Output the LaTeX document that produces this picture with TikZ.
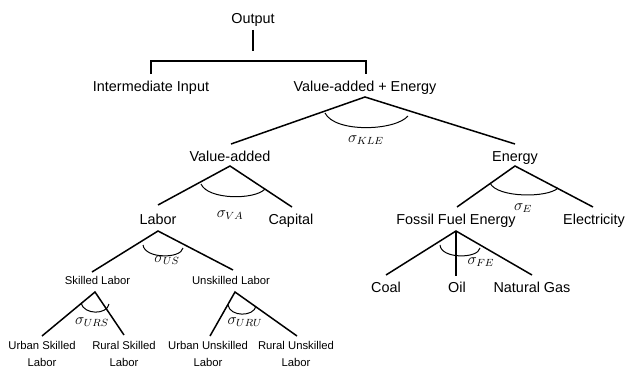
\documentclass[tikz,border=0pt]{standalone}
\usepackage{fontspec}
\setmainfont{Liberation Sans}
\newcommand{\sg}[1]{\scalebox{1.3}{$\sigma_{#1}$}}
\begin{document}
\begin{tikzpicture}[x=1pt,y=-1pt,
  big/.style={inner sep=0pt,text height=10.3pt,text depth=0pt,font=\fontsize{14.4}{16}\selectfont},
  small/.style={inner sep=0pt,text height=8.1pt,text depth=0pt,font=\fontsize{11.3}{16.5}\selectfont},
  two/.style={inner sep=0pt,align=center,font=\fontsize{11.3}{16.5}\selectfont},
  sig/.style={inner sep=0pt,font=\fontsize{12}{14}\selectfont},
  br/.style={line width=1.8pt},
  tr/.style={line width=1.5pt},
  ar/.style={line width=1pt}]
\useasboundingbox (0,0) rectangle (626,369);
% texts
\node[big] (out) at (253,18) {Output};
\node[big] (ii) at (151,86.5) {Intermediate Input};
\node[big] (vae) at (365,86.5) {Value-added + Energy};
\node[big] (va) at (230,156) {Value-added};
\node[big] (en) at (515,156) {Energy};
\node[big] (lab) at (158,219) {Labor};
\node[big] (cap) at (291,219) {Capital};
\node[big] (ffe) at (456,219) {Fossil Fuel Energy};
\node[big] (ele) at (594,219) {Electricity};
\node[big] (coal) at (386,287) {Coal};
\node[big] (oil) at (457,287) {Oil};
\node[big] (ng) at (532,287) {Natural Gas};
\node[small] (sl) at (97.5,280.5) {Skilled Labor};
\node[small] (ul) at (231,280.5) {Unskilled Labor};
\node[two] (usl) at (42,354) {Urban Skilled\\Labor};
\node[two] (rsl) at (124,354) {Rural Skilled\\Labor};
\node[two] (uul) at (208,354) {Urban Unskilled\\Labor};
\node[two] (rul) at (296,354) {Rural Unskilled\\Labor};
% sigma labels
\node[sig] (skle) at (366,140) {\sg{KLE}};
\node[sig] (sva) at (230,215) {\sg{VA}};
\node[sig] (se) at (523,208) {\sg{E}};
\node[sig] (sfe) at (481,262) {\sg{FE}};
\node[sig] (sus) at (167,260) {\sg{US}};
\node[sig] (surs) at (92,322) {\sg{URS}};
\node[sig] (suru) at (245,322) {\sg{URU}};
% connector points
\coordinate (outB) at (253,30);
\coordinate (outE) at (253,51);
\coordinate (brL) at (151,61);
\coordinate (brR) at (366,61);
\coordinate (iiT) at (151,74);
\coordinate (vaeT) at (366,74);
\coordinate (vaeA) at (365,97);
\coordinate (vaT) at (231,144);
\coordinate (enT) at (515,144);
\coordinate (vaA) at (230,166);
\coordinate (labT) at (158,205);
\coordinate (capT) at (292,207);
\coordinate (enA) at (515,166);
\coordinate (ffeT) at (457,207);
\coordinate (eleT) at (593,207);
\coordinate (ffeA) at (456,231);
\coordinate (coalT) at (386,275);
\coordinate (oilT) at (456,276);
\coordinate (ngT) at (532,275);
\coordinate (labA) at (158,231);
\coordinate (slT) at (92,272);
\coordinate (ulT) at (233,270);
\coordinate (slA) at (95,292);
\coordinate (uslT) at (42,336);
\coordinate (rslT) at (124,335);
\coordinate (ulA) at (235,292);
\coordinate (uulT) at (210,336);
\coordinate (rulT) at (297,336);
% bracket
\draw[br] (outB) -- (outE);
\draw[br] (iiT) -- (brL) -- (brR) -- (vaeT);
% tree lines
\draw[tr] (vaT) -- (vaeA) -- (enT);
\draw[tr] (labT) -- (vaA) -- (capT);
\draw[tr] (ffeT) -- (enA) -- (eleT);
\draw[tr] (coalT) -- (ffeA) -- (ngT);
\draw[tr] (ffeA) -- (oilT);
\draw[tr] (slT) -- (labA) -- (ulT);
\draw[tr] (uslT) -- (slA) -- (rslT);
\draw[tr] (uulT) -- (ulA) -- (rulT);
% arcs
\coordinate (k1) at (325,113); \coordinate (k2) at (408,116);
\draw[ar] (k1) .. controls (335,133) and (395,131) .. (k2);
\coordinate (v1) at (201,184); \coordinate (v2) at (265,189);
\draw[ar] (v1) .. controls (208,200) and (255,200) .. (v2);
\coordinate (e1) at (490,183); \coordinate (e2) at (558,188);
\draw[ar] (e1) .. controls (497,198) and (548,198) .. (e2);
\coordinate (f1) at (440,245); \coordinate (f2) at (480,248);
\draw[ar] (f1) .. controls (441,259) and (478,259) .. (f2);
\coordinate (u1) at (143,245); \coordinate (u2) at (183,248);
\draw[ar] (u1) .. controls (145,259) and (181,259) .. (u2);
\coordinate (r1) at (81,303); \coordinate (r2) at (109,304);
\draw[ar] (r1) .. controls (84,315) and (107,315) .. (r2);
\coordinate (w1) at (228,305); \coordinate (w2) at (256,306);
\draw[ar] (w1) .. controls (230,317) and (254,317) .. (w2);
\end{tikzpicture}
\end{document}
